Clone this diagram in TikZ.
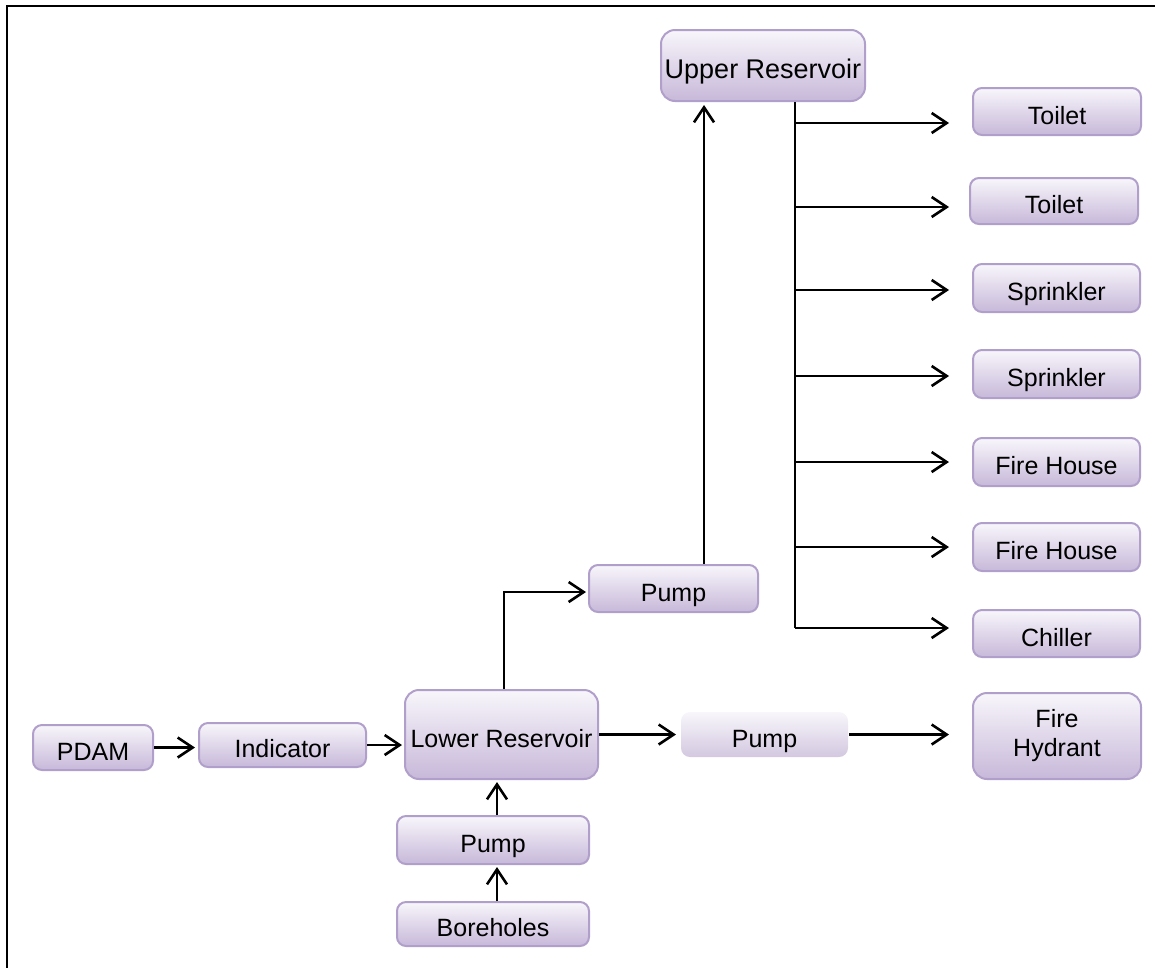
\documentclass[tikz,border=0pt]{standalone}
\usepackage{fontspec}
\setmainfont{Liberation Sans}
\usetikzlibrary{arrows.meta}
\definecolor{bord}{HTML}{B09FCA}
\definecolor{boxtop}{HTML}{F8F6FB}
\definecolor{boxbot}{HTML}{C7B8D9}
\definecolor{pumpbot}{HTML}{D3C8E0}
\tikzset{
  box/.style={draw=bord, line width=2pt, rounded corners=9pt, top color=boxtop, bottom color=boxbot,
    font=\fontsize{25}{29}\selectfont, inner sep=0pt, align=center},
  oneline/.style={text height=25pt, text depth=0pt},
  plainbox/.style={box, draw=none, bottom color=pumpbot},
  arr/.style={line width=2.6pt, -{Straight Barb[length=15pt,width=20pt,line width=2.6pt]}},
  ln/.style={line width=2.6pt},
}
\begin{document}
\begin{tikzpicture}[x=1pt,y=-1pt]
\useasboundingbox (0,0) rectangle (1155,967);
\draw[line width=2.6pt, line cap=rect] (7,967) -- (7,6) -- (1155,6);

\node[box, oneline, rounded corners=14pt, minimum width=204pt, minimum height=71pt, font=\fontsize{27}{31}\selectfont] (UR) at (763,65.5) {Upper Reservoir};
\node[box, oneline, minimum width=168pt, minimum height=47pt] (T1) at (1057,111.5) {Toilet};
\node[box, oneline, minimum width=168pt, minimum height=46pt] (T2) at (1054,201) {Toilet};
\node[box, oneline, minimum width=167pt, minimum height=48pt] (S1) at (1056.5,288) {Sprinkler};
\node[box, oneline, minimum width=167pt, minimum height=48pt] (S2) at (1056.5,374) {Sprinkler};
\node[box, oneline, minimum width=167pt, minimum height=48pt] (F1) at (1056.5,462) {Fire House};
\node[box, oneline, minimum width=167pt, minimum height=48pt] (F2) at (1056.5,547) {Fire House};
\node[box, oneline, minimum width=167pt, minimum height=47pt] (CH) at (1056.5,633.5) {Chiller};
\node[box, oneline, minimum width=169pt, minimum height=47pt] (PU) at (673.5,588.5) {Pump};
\node[box, oneline, rounded corners=14pt, minimum width=193pt, minimum height=89pt] (LR) at (501.5,734.5) {Lower Reservoir};
\node[plainbox, oneline, minimum width=167pt, minimum height=45pt] (PR) at (764.5,734.5) {Pump};
\node[box, rounded corners=14pt, minimum width=168pt, minimum height=86pt] (FH) at (1057,736) {Fire\\Hydrant};
\node[box, oneline, minimum width=120pt, minimum height=45pt] (PD) at (93,747.5) {PDAM};
\node[box, oneline, minimum width=167pt, minimum height=44pt] (IN) at (282.5,745) {Indicator};
\node[box, oneline, minimum width=192pt, minimum height=48pt] (PL) at (493,840) {Pump};
\node[box, oneline, minimum width=192pt, minimum height=44pt] (BH) at (493,924) {Boreholes};

% main flow
\draw[arr, shorten >=3pt] (PD.east) -- (IN.west |- PD.east);
\draw[arr, shorten >=2pt] (IN.east) -- (LR.west |- IN.east);
\draw[arr, shorten >=4pt] (LR.east) -- (PR.west);
\draw[arr, shorten >=23pt] (PR.east) -- (FH.west |- PR.east);
\draw[arr, shorten >=2pt] ([xshift=4pt]BH.north) -- ([xshift=4pt]PL.south);
\draw[arr, shorten >=2pt] ([xshift=4pt]PL.north) -- ([xshift=4pt]PL.north |- LR.south);
\draw[arr, shorten >=2pt] ([xshift=2.5pt]LR.north) |- ([yshift=-3.5pt]PU.west);
\draw[arr, shorten >=3pt] ([xshift=30.5pt]PU.north) -- ([xshift=30.5pt]PU.north |- UR.south);

% distribution bus
\coordinate (b1) at (795,123);
\coordinate (b2) at (795,207);
\coordinate (b3) at (795,290);
\coordinate (b4) at (795,376);
\coordinate (b5) at (795,462);
\coordinate (b6) at (795,547);
\coordinate (b7) at (795,628);
\draw[ln] ([xshift=32pt]UR.south) -- (b7);
\draw[arr, shorten >=23pt] (b1) -- (T1.west |- b1);
\draw[arr, shorten >=20pt] (b2) -- (T2.west |- b2);
\draw[arr, shorten >=23pt] (b3) -- (S1.west |- b3);
\draw[arr, shorten >=23pt] (b4) -- (S2.west |- b4);
\draw[arr, shorten >=23pt] (b5) -- (F1.west |- b5);
\draw[arr, shorten >=23pt] (b6) -- (F2.west |- b6);
\draw[arr, shorten >=23pt] (b7) -- (CH.west |- b7);
\end{tikzpicture}
\end{document}
